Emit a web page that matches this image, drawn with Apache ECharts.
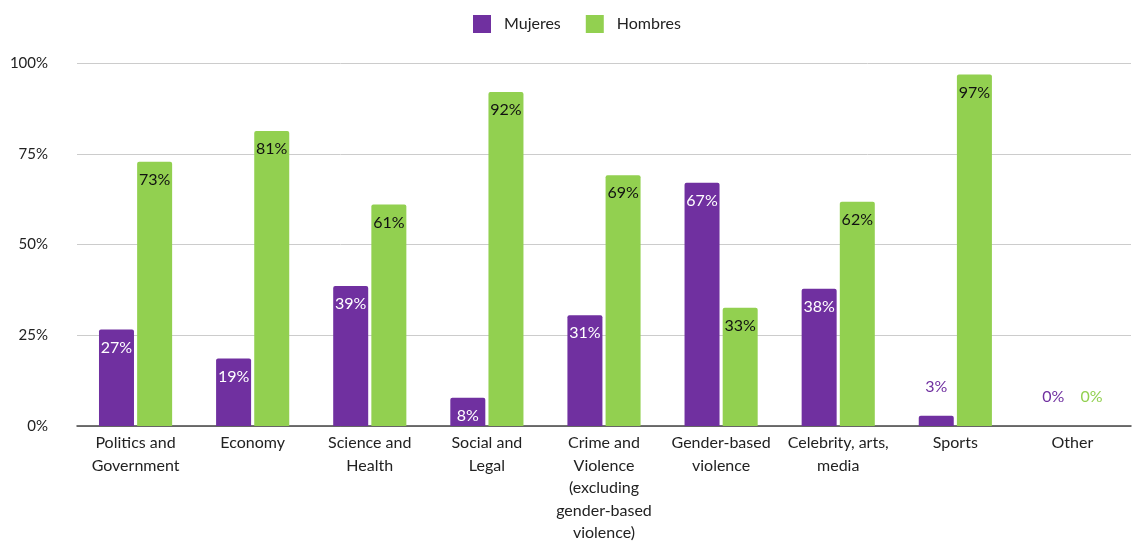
<!DOCTYPE html>
<html>
<head>
<meta charset="utf-8">
<script src="https://cdn.jsdelivr.net/npm/echarts@6/dist/echarts.min.js"></script>
<style>
  html, body { margin: 0; padding: 0; background: #fff; }
  #chart { width: 1137px; height: 542px; }
</style>
</head>
<body>
<div id="chart"></div>
<script>
// === ДАННЫЕ ===
const categories = [
    'Politics and\nGovernment',
    'Economy',
    'Science and\nHealth',
    'Social and\nLegal',
    'Crime and\nViolence\n(excluding\ngender-based\nviolence)',
    'Gender-based\nviolence',
    'Celebrity, arts,\nmedia',
    'Sports',
    'Other'
];
const mujeres = [26.6, 18.6, 38.6, 7.8, 30.5, 67.0, 37.8, 2.8, 0];
const hombres = [72.8, 81.3, 61.0, 92.0, 69.1, 32.6, 61.8, 96.8, 0];
const yTicks = [0, 25, 50, 75, 100];

const PURPLE = '#7030a0';
const GREEN = '#92d050';
const FONT = 'Lato';

// Подписи: внутри столбца сверху, для маленьких значений — над столбцом
function seriesData(values, innerColor, outerColor) {
    return values.map(v => {
        if (v < 5) {
            return {
                value: v,
                label: { position: 'top', distance: 21, color: outerColor }
            };
        }
        return { value: v, label: { position: 'insideTop', distance: 10, color: innerColor } };
    });
}

const chart = echarts.init(document.getElementById('chart'));

const option = {
    animation: false,
    textStyle: { fontFamily: FONT },
    legend: {
        top: 15,
        left: 473,
        padding: 0,
        itemWidth: 18,
        itemHeight: 18,
        itemGap: 25,
        icon: 'rect',
        textStyle: { fontSize: 16, color: '#222', fontFamily: FONT, padding: [0, 0, 0, 8] },
        data: ['Mujeres', 'Hombres']
    },
    grid: {
        top: 63,
        bottom: 116,
        left: 77,
        right: 6,
        outerBoundsMode: 'none'
    },
    xAxis: {
        type: 'category',
        data: categories,
        axisTick: { show: false },
        axisLine: { lineStyle: { color: '#444', width: 1.5 } },
        axisLabel: {
            interval: 0,
            fontSize: 16,
            lineHeight: 22.5,
            margin: 6,
            color: '#222',
            fontFamily: FONT
        }
    },
    yAxis: {
        type: 'value',
        min: 0,
        max: 100,
        interval: 25,
        axisLabel: {
            fontSize: 15,
            color: '#222',
            margin: 29,
            fontFamily: FONT,
            formatter: v => yTicks.includes(v) ? v + '%' : ''
        },
        splitLine: { lineStyle: { color: '#cccccc' } }
    },
    series: [
        {
            name: 'Mujeres',
            type: 'bar',
            barWidth: 35,
            barGap: '9%',
            itemStyle: { color: PURPLE, borderRadius: [2, 2, 0, 0] },
            label: {
                show: true,
                fontSize: 16,
                fontFamily: FONT,
                formatter: p => Math.round(p.value) + '%'
            },
            data: seriesData(mujeres, '#ffffff', PURPLE)
        },
        {
            name: 'Hombres',
            type: 'bar',
            barWidth: 35,
            itemStyle: { color: GREEN, borderRadius: [2, 2, 0, 0] },
            label: {
                show: true,
                fontSize: 16,
                fontFamily: FONT,
                formatter: p => Math.round(p.value) + '%'
            },
            data: seriesData(hombres, '#111111', GREEN)
        }
    ]
};

chart.setOption(option);
window.addEventListener('resize', () => chart.resize());
</script>
</body>
</html>
